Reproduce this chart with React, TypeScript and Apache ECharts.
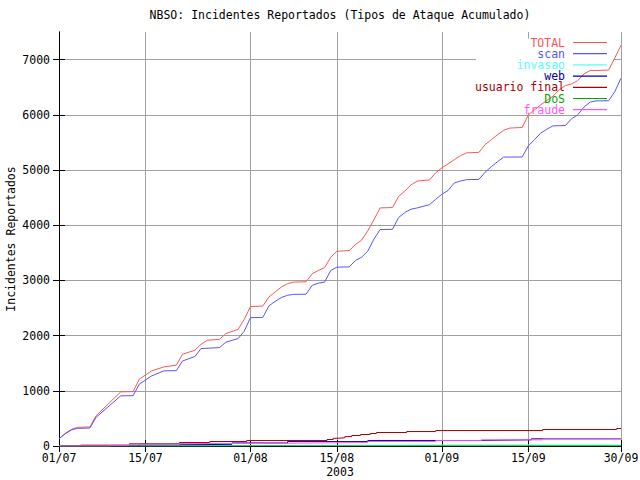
import React, { useEffect, useRef } from "react";
import * as echarts from "echarts";

// x = day offset from 01/07/2003
const xTickDays = [0, 14, 31, 45, 62, 76, 91];
const xTickLabels = ["01/07", "15/07", "01/08", "15/08", "01/09", "15/09", "30/09"];
const yTickValues = [0, 1000, 2000, 3000, 4000, 5000, 6000, 7000];

const seriesNames = ["TOTAL", "scan", "invasao", "web", "usuario final", "DoS", "fraude"];
const seriesColors = ["#ff5555", "#5555ff", "#55ffff", "#0000aa", "#aa0000", "#00aa00", "#ff55ff"];

const totalPoints = [
  [0, 130], [1, 230], [2, 300], [3, 338], [5, 345], [6, 548], [10, 981], [12, 985], [13, 1211],
  [15, 1361], [17, 1433], [19, 1464], [20, 1662], [22, 1735], [23, 1843], [24, 1915], [26, 1933],
  [27, 2036], [29, 2114], [30, 2295], [31, 2525], [33, 2535], [34, 2700], [35, 2790], [36, 2880],
  [37, 2940], [38, 2969], [40, 2975], [41, 3120], [42, 3180], [43, 3229], [44, 3420], [45, 3529],
  [47, 3540], [48, 3650], [49, 3730], [50, 3900], [51, 4100], [52, 4313], [54, 4320], [55, 4523],
  [56, 4620], [57, 4730], [58, 4800], [60, 4820], [61, 4950], [62, 5040], [63, 5110], [64, 5186],
  [65, 5260], [66, 5310], [68, 5320], [69, 5460], [70, 5550], [71, 5638], [72, 5720], [73, 5760],
  [75, 5770], [76, 5999], [77, 6090], [78, 6180], [79, 6260], [80, 6340], [81, 6450], [82, 6530],
  [83, 6560], [84, 6620], [85, 6740], [86, 6800], [89, 6810], [90, 7030], [91, 7260],
];

const scanPoints = [
  [0, 130], [1, 220], [2, 290], [3, 320], [5, 325], [6, 519], [10, 909], [12, 912], [13, 1120],
  [15, 1270], [17, 1361], [19, 1365], [20, 1540], [22, 1621], [23, 1765], [26, 1783], [27, 1880],
  [29, 1946], [30, 2080], [31, 2325], [33, 2330], [34, 2540], [35, 2620], [36, 2690], [37, 2730],
  [38, 2747], [40, 2750], [41, 2910], [42, 2950], [43, 2969], [44, 3180], [45, 3240], [47, 3245],
  [48, 3360], [49, 3420], [50, 3530], [51, 3750], [52, 3921], [54, 3925], [55, 4140], [56, 4230],
  [57, 4290], [58, 4313], [60, 4373], [61, 4470], [62, 4560], [63, 4630], [64, 4765], [65, 4800],
  [66, 4825], [68, 4830], [69, 4960], [70, 5060], [71, 5150], [72, 5234], [75, 5236], [76, 5439],
  [77, 5550], [78, 5668], [79, 5740], [80, 5800], [82, 5805], [83, 5930], [84, 5999], [85, 6140],
  [86, 6230], [87, 6252], [89, 6255], [90, 6420], [91, 6662],
];

const invasaoPoints = [[0, 0], [8, 4], [20, 8], [33, 12], [44, 18], [62, 20], [91, 22]];
const webPoints = [
  [0, 0], [13, 20], [17, 30], [28, 55], [34, 55], [37, 80], [50, 100], [61, 100], [68, 112],
  [76.5, 130], [91, 130],
];
const usuarioPoints = [
  [0, 0], [3.5, 15], [11.4, 40], [19.5, 63], [24.4, 81], [30.4, 100], [43.4, 118], [44.4, 140],
  [45.2, 150], [46.3, 170], [47.4, 190], [48.8, 208], [50.4, 226], [51.4, 244], [56.3, 262],
  [61, 280], [78.3, 299], [90.3, 317], [91, 317],
];
const dosPoints = [[0, 0], [8.5, 3], [91, 4]];
const fraudePoints = [
  [0, 0], [8.3, 15], [11.4, 30], [19.5, 45], [28, 50], [37, 58], [44, 63], [50, 81], [61, 97],
  [68.4, 112], [78.3, 130], [91, 130],
];

const seriesData = [totalPoints, scanPoints, invasaoPoints, webPoints, usuarioPoints, dosPoints, fraudePoints];
const stepped = [false, false, true, true, true, true, true];

const FONT = "DejaVu Sans Mono";
const FS = 11.5;

export default function App() {
  const ref = useRef<HTMLDivElement>(null);
  useEffect(() => {
    if (!ref.current) return;
    const chart = echarts.init(ref.current, undefined, { renderer: "svg" });
    const labelFmt = (v: number) => {
      const i = xTickDays.indexOf(v);
      return i >= 0 ? xTickLabels[i] : "";
    };
    const axisLine = { show: true, lineStyle: { color: "#000", width: 1 } };
    chart.setOption({
      animation: false,
      backgroundColor: "#fff",
      title: {
        text: "NBSO: Incidentes Reportados (Tipos de Ataque Acumulado)",
        left: 340,
        top: 9,
        padding: 0,
        textAlign: "center",
        textStyle: { fontFamily: FONT, fontSize: FS, fontWeight: "normal", color: "#000" },
      },
      grid: { left: 59, right: 19, top: 32, bottom: 34, containLabel: false, outerBoundsMode: "none" },
      legend: {
        orient: "vertical",
        align: "right",
        right: 33,
        top: 36.5,
        padding: 0,
        itemGap: -0.8,
        itemWidth: 34,
        itemHeight: 1.2,
        icon: "rect",
        textStyle: { fontFamily: FONT, fontSize: FS, lineHeight: 11, padding: [0, 3, 0, 0] },
        data: seriesNames.map((n, i) => ({ name: n, textStyle: { color: seriesColors[i] } })),
      },
      graphic: [
        {
          type: "rect",
          z: 1,
          shape: { x: 476, y: 38.5, width: 138, height: 74 },
          style: { fill: "#fff" },
          silent: true,
        },
      ],
      xAxis: [
        {
          type: "value",
          min: 0,
          max: 91,
          position: "bottom",
          axisLine,
          axisTick: { show: true, inside: true, length: 6, customValues: xTickDays, lineStyle: { color: "#000" } },
          axisLabel: {
            customValues: xTickDays,
            formatter: labelFmt,
            margin: 6,
            color: "#000",
            fontFamily: FONT,
            fontSize: FS,
          },
          splitLine: { show: true, lineStyle: { color: "#a0a0a0", width: 1 } },
          name: "2003",
          nameLocation: "middle",
          nameGap: 20,
          nameMoveOverlap: false,
          nameTextStyle: { fontFamily: FONT, fontSize: FS, color: "#000" },
        },
        {
          type: "value",
          min: 0,
          max: 91,
          position: "top",
          axisLine,
          axisTick: { show: true, inside: true, length: 6, customValues: xTickDays, lineStyle: { color: "#000" } },
          axisLabel: { show: false },
          splitLine: { show: false },
        },
      ],
      yAxis: [
        {
          type: "value",
          min: 0,
          max: 7500,
          position: "left",
          axisLine,
          axisTick: { show: true, inside: true, length: 6, customValues: yTickValues, lineStyle: { color: "#000" } },
          axisLabel: {
            customValues: yTickValues,
            formatter: (v: number) => String(v),
            margin: 9,
            color: "#000",
            fontFamily: FONT,
            fontSize: FS,
          },
          splitLine: { show: true, lineStyle: { color: "#a0a0a0", width: 1 } },
          name: "Incidentes Reportados",
          nameLocation: "middle",
          nameGap: 42,
          nameMoveOverlap: false,
          nameRotate: 90,
          nameTextStyle: { fontFamily: FONT, fontSize: FS, color: "#000" },
        },
        {
          type: "value",
          min: 0,
          max: 7500,
          position: "right",
          axisLine,
          axisTick: { show: true, inside: true, length: 6, customValues: yTickValues, lineStyle: { color: "#000" } },
          axisLabel: { show: false },
          splitLine: { show: false },
        },
      ],
      series: seriesNames.map((n, i) => ({
        name: n,
        type: "line",
        xAxisIndex: 0,
        yAxisIndex: 0,
        data: seriesData[i],
        step: stepped[i] ? "end" : false,
        symbol: "none",
        showSymbol: false,
        color: seriesColors[i],
        lineStyle: { color: seriesColors[i], width: 1 },
        z: 2 + i * 0.01,
      })),
    });
    return () => chart.dispose();
  }, []);
  return (
    <div
      ref={ref}
      style={{ position: "absolute", left: 0, top: 0, width: 640, height: 480 }}
    />
  );
}
